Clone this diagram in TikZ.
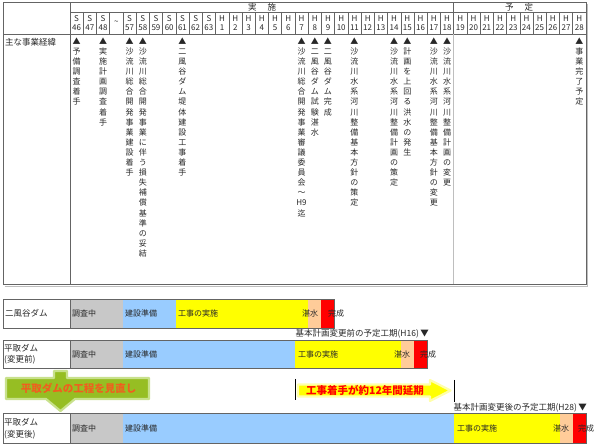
\documentclass[tikz,border=0pt]{standalone}
\usepackage{fontspec}
\setmainfont{Noto Sans CJK JP}
\ExplSyntaxOn
\seq_new:N \l_vt_items_seq
\NewDocumentCommand \vtext { m }
  {
    \seq_clear:N \l_vt_items_seq
    \tl_map_inline:nn {#1} { \seq_put_right:Nn \l_vt_items_seq {##1} }
    \seq_use:Nn \l_vt_items_seq { \\ }
  }
\ExplSyntaxOff
\definecolor{cgray}{RGB}{200,200,200}
\definecolor{cblue}{RGB}{153,204,255}
\definecolor{cyel}{RGB}{255,255,0}
\definecolor{cyelglow}{RGB}{255,255,170}
\definecolor{cpeach}{RGB}{255,204,153}
\definecolor{cred}{RGB}{255,0,0}
\definecolor{cgreen}{RGB}{150,190,35}
\definecolor{cgreenglow}{RGB}{200,225,140}
\definecolor{corange}{RGB}{240,95,30}
\definecolor{cline}{RGB}{100,100,100}
\definecolor{clight}{RGB}{190,190,190}
\definecolor{ctext}{RGB}{40,40,40}
\tikzset{
  gridline/.style={draw=cline, line width=0.5pt},
  outerline/.style={draw=cline, line width=1pt},
  rowline/.style={draw=cline, line width=0.7pt},
  yr/.style={font=\fontsize{8}{8.6}\selectfont, align=center, inner sep=0pt, text=ctext},
  ev/.style={font=\fontsize{8}{10.1}\selectfont, align=center, inner sep=0pt, anchor=north, text=ctext},
  lbl/.style={font=\fontsize{8.5}{11.5}\selectfont, inner sep=0pt, anchor=west, align=left, text=ctext},
  bartxt/.style={font=\fontsize{8}{10}\selectfont, inner sep=0pt, anchor=west, text=ctext},
  hdr/.style={font=\fontsize{8.5}{10}\selectfont, inner sep=0pt, text=ctext},
  plantxt/.style={font=\fontsize{8.5}{10}\selectfont, inner sep=0pt, anchor=east, text=ctext},
  bigtxt/.style={font=\fontsize{10.5}{12}\selectfont\bfseries, inner sep=0pt},
}
\def\cw{13.23}
\begin{document}
\begin{tikzpicture}[x=1pt,y=-1pt]
\useasboundingbox (0,0) rectangle (600,446);

% ---------- top table ----------
\draw[gridline] (70,12) -- (586,12);
\draw[gridline] (3,34) -- (586,34);
\foreach \k in {1,...,38} \draw[gridline] ({70+\cw*\k},12) -- ({70+\cw*\k},34);
\draw[gridline] (70,3) -- (70,285);
\draw[gridline] (453.7,3) -- (453.7,34);
\draw[draw=clight, line width=0.5pt] (453.7,34) -- (453.7,285);
\draw[draw=clight, line width=1.2pt] (4.5,286.3) -- (587.3,286.3) -- (587.3,4.5);
\draw[outerline] (3,3) rectangle (586,285);

\node[hdr] (jisshi) at (262,7.5) {実\hspace{11pt}施};
\node[hdr] (yotei) at (519,7.5) {予\hspace{11pt}定};

\foreach \n [count=\i from 0] in {46,47,48}
  \node[yr] (ys\n) at ({70+\cw*(\i+0.5)},23.2) {S\\\n};
\node[yr] (ytilde) at ({70+\cw*3.5},23) {\textasciitilde};
\foreach \n [count=\i from 4] in {57,58,59,60,61,62,63}
  \node[yr] (ys\n) at ({70+\cw*(\i+0.5)},23.2) {S\\\n};
\foreach \n [count=\i from 11] in {1,...,28}
  \node[yr] (yh\n) at ({70+\cw*(\i+0.5)},23.2) {H\\\n};

\node[lbl] (mainlbl) at (5,42) {主な事業経緯};

\node[ev] (ev46) at ({70+\cw*0.5},37.5) {\vtext{▲予備調査着手}};
\node[ev] (ev48) at ({70+\cw*2.5},37.5) {\vtext{▲実施計画調査着手}};
\node[ev] (ev57) at ({70+\cw*4.5},37.5) {\vtext{▲沙流川総合開発事業建設着手}};
\node[ev] (ev58) at ({70+\cw*5.5},37.5) {\vtext{▲沙流川総合開発事業に伴う損失補償基準の妥結}};
\node[ev] (ev61) at ({70+\cw*8.5},37.5) {\vtext{▲二風谷ダム堤体建設工事着手}};
\node[ev] (evh7) at ({70+\cw*17.5},37.5) {\vtext{▲沙流川総合開発事業審議委員会～{H9}迄}};
\node[ev] (evh8) at ({70+\cw*18.5},37.5) {\vtext{▲二風谷ダム試験湛水}};
\node[ev] (evh9) at ({70+\cw*19.5},37.5) {\vtext{▲二風谷ダム完成}};
\node[ev] (evh11) at ({70+\cw*21.5},37.5) {\vtext{▲沙流川水系河川整備基本方針の策定}};
\node[ev] (evh14) at ({70+\cw*24.5},37.5) {\vtext{▲沙流川水系河川整備計画の策定}};
\node[ev] (evh15) at ({70+\cw*25.5},37.5) {\vtext{▲計画を上回る洪水の発生}};
\node[ev] (evh17) at ({70+\cw*27.5},37.5) {\vtext{▲沙流川水系河川整備基本方針の変更}};
\node[ev] (evh18) at ({70+\cw*28.5},37.5) {\vtext{▲沙流川水系河川整備計画の変更}};
\node[ev] (evh28) at ({70+\cw*38.5},37.5) {\vtext{▲事業完了予定}};

% ---------- row 1 : 二風谷ダム ----------
\fill[cgray]  (70,299) rectangle ({70+\cw*4},328);
\fill[cblue]  ({70+\cw*4},299) rectangle ({70+\cw*8},328);
\fill[cyel]   ({70+\cw*8},299) rectangle ({70+\cw*18},328);
\fill[cpeach] ({70+\cw*18},299) rectangle ({70+\cw*19},328);
\fill[cred]   ({70+\cw*19},299) rectangle ({70+\cw*20},328);
\draw[rowline] (3,299) rectangle ({70+\cw*20},328);
\draw[rowline] (70,299) -- (70,328);
\node[lbl] (r1lbl) at (5,313.5) {二風谷ダム};
\node[bartxt] (r1a) at (72,313.5) {調査中};
\node[bartxt] (r1b) at (125,313.5) {建設準備};
\node[bartxt] (r1c) at (178,313.5) {工事の実施};
\node[bartxt] (r1d) at (302,313.5) {湛水};
\node[bartxt] (r1e) at (328,313.5) {完成};

\node[plantxt] (planA) at (429,333.5) {基本計画変更前の予定工期(H16)\,▼};

% ---------- row 2 : 平取ダム（変更前） ----------
\fill[cgray]  (70,340) rectangle ({70+\cw*4},368);
\fill[cblue]  ({70+\cw*4},340) rectangle ({70+\cw*17},368);
\fill[cyel]   ({70+\cw*17},340) rectangle ({70+\cw*25},368);
\fill[cpeach] ({70+\cw*25},340) rectangle ({70+\cw*26},368);
\fill[cred]   ({70+\cw*26},340) rectangle ({70+\cw*27},368);
\draw[rowline] (3,340) rectangle ({70+\cw*27},368);
\draw[rowline] (70,340) -- (70,368);
\node[lbl] (r2lbl) at (4,354) {平取ダム\\(変更前)};
\node[bartxt] (r2a) at (72,354) {調査中};
\node[bartxt] (r2b) at (125,354) {建設準備};
\node[bartxt] (r2c) at (298,354) {工事の実施};
\node[bartxt] (r2d) at (394,354) {湛水};
\node[bartxt] (r2e) at (420,354) {完成};

% ---------- green arrow ----------
\path[fill=cgreen, draw=cgreenglow, line width=2.2pt, line join=round]
  (54,371) -- (67,371) -- (67,378) -- (149,378) -- (149,399) -- (75,399)
  -- (60.5,411) -- (46,399) -- (6,399) -- (6,378) -- (54,378) -- cycle;
\node[bigtxt, text=corange] (greentxt) at (78.5,388.5) {平取ダムの工程を見直し};

% ---------- yellow arrow ----------
\path[fill=cyel, draw=cyelglow, line width=2.2pt, line join=round]
  (298,384.5) -- (430,384.5) -- (430,380) -- (450.5,390.5) -- (430,401)
  -- (430,396.5) -- (298,396.5) -- cycle;
\node[bigtxt, text=cred] (yeltxt) at (365,390.5) {工事着手が約12年間延期};
\coordinate (mA1) at (295,379);
\coordinate (mA2) at (295,400);
\coordinate (mB1) at (454,380);
\coordinate (mB2) at (454,402);
\draw[black, line width=0.8pt] (mA1) -- (mA2);
\draw[black, line width=0.8pt] (mB1) -- (mB2);

\node[plantxt] (planB) at (587,408) {基本計画変更後の予定工期(H28)\,▼};

% ---------- row 3 : 平取ダム（変更後） ----------
\fill[cgray]  (70,413) rectangle ({70+\cw*4},443);
\fill[cblue]  ({70+\cw*4},413) rectangle ({70+\cw*29},443);
\fill[cyel]   ({70+\cw*29},413) rectangle ({70+\cw*37},443);
\fill[cpeach] ({70+\cw*37},413) rectangle ({70+\cw*38},443);
\fill[cred]   ({70+\cw*38},413) rectangle ({70+\cw*39},443);
\draw[rowline] (3,413) rectangle ({70+\cw*39},443);
\draw[rowline] (70,413) -- (70,443);
\node[lbl] (r3lbl) at (4,428.5) {平取ダム\\(変更後)};
\node[bartxt] (r3a) at (72,428.5) {調査中};
\node[bartxt] (r3b) at (125,428.5) {建設準備};
\node[bartxt] (r3c) at (457,428.5) {工事の実施};
\node[bartxt] (r3d) at (553,428.5) {湛水};
\node[bartxt] (r3e) at (578,428.5) {完成};
\end{tikzpicture}
\end{document}
